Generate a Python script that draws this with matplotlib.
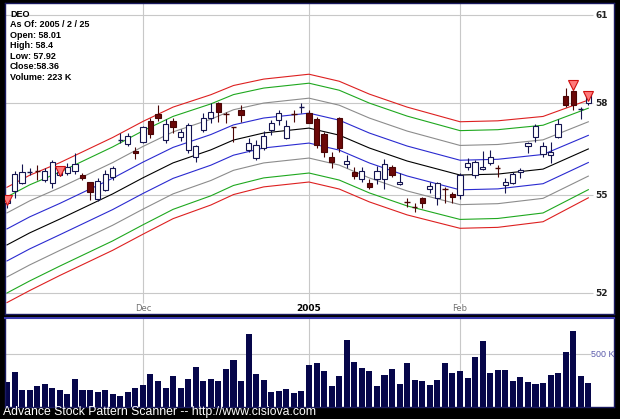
import numpy as np
import matplotlib
matplotlib.use("Agg")
import matplotlib.pyplot as plt
from matplotlib.patches import Rectangle
from matplotlib.ticker import NullLocator

# daily bars, 2004/11/2 .. 2005/2/25 (78 trading days)
opens = [54.77, 55.15, 55.40, 55.74, 55.78, 55.49, 55.40, 55.65, 55.72, 55.78,
         55.65, 55.43, 54.89, 55.18, 55.59, 56.78, 56.65, 56.43, 56.72, 57.40,
         57.63, 56.78, 57.40, 56.88, 56.46, 56.23, 57.11, 57.50, 58.00, 57.64,
         57.22, 57.77, 56.46, 56.20, 56.52, 57.11, 57.44, 56.85, 57.65, 57.87,
         57.67, 57.47, 56.98, 56.23, 57.50, 56.00, 55.75, 55.52, 55.40, 55.52,
         55.52, 55.90, 55.37, 54.80, 54.65, 54.92, 55.21, 54.92, 55.22, 55.06,
         55.03, 55.90, 55.65, 55.84, 56.03, 55.88, 55.34, 55.40, 55.75, 56.59,
         56.88, 56.33, 56.29, 56.88, 58.23, 58.40, 57.80, 58.01]
highs = [54.96, 55.78, 56.00, 55.87, 55.97, 55.87, 56.13, 55.87, 56.03, 56.36,
         55.71, 55.43, 55.55, 55.81, 55.94, 57.01, 57.01, 56.56, 57.24, 57.50,
         57.93, 57.47, 57.50, 57.14, 57.34, 56.62, 57.67, 58.00, 58.03, 57.70,
         57.22, 57.93, 56.85, 56.78, 57.08, 57.44, 57.77, 57.44, 57.77, 58.00,
         57.77, 57.54, 57.04, 56.39, 57.54, 56.29, 55.90, 55.90, 55.52, 55.94,
         56.16, 55.97, 55.71, 54.92, 54.77, 54.96, 55.43, 55.43, 55.27, 55.12,
         55.71, 56.20, 56.13, 56.43, 56.46, 55.97, 55.55, 55.75, 55.87, 56.72,
         57.31, 56.72, 56.72, 57.47, 58.50, 58.43, 57.87, 58.40]
lows = [54.61, 54.92, 55.37, 55.65, 55.49, 55.43, 55.24, 55.62, 55.65, 55.68,
        55.49, 54.86, 54.83, 55.15, 55.49, 56.68, 56.59, 56.16, 56.68, 56.85,
        57.40, 56.68, 57.01, 56.75, 56.36, 56.07, 57.04, 57.34, 57.37, 57.34,
        56.72, 57.37, 56.39, 56.13, 56.46, 56.94, 57.27, 56.81, 57.37, 57.67,
        57.34, 56.52, 56.23, 55.87, 56.39, 55.87, 55.52, 55.43, 55.21, 55.37,
        55.21, 55.59, 55.34, 54.64, 54.49, 54.61, 55.09, 54.70, 54.77, 54.77,
        54.89, 55.81, 55.55, 55.81, 55.97, 55.59, 55.09, 55.37, 55.55, 56.36,
        56.72, 56.23, 56.03, 56.85, 57.87, 57.77, 57.47, 57.92]
closes = [54.86, 55.68, 55.75, 55.76, 55.77, 55.78, 56.07, 55.75, 55.90, 56.00,
          55.56, 55.12, 55.46, 55.68, 55.87, 56.78, 56.91, 56.36, 57.21, 56.98,
          57.50, 57.31, 57.21, 57.04, 57.27, 56.59, 57.50, 57.70, 57.70, 57.63,
          57.20, 57.60, 56.68, 56.62, 56.91, 57.34, 57.67, 57.24, 57.62, 57.88,
          57.34, 56.62, 56.39, 56.07, 56.52, 56.10, 55.62, 55.78, 55.27, 55.78,
          56.00, 55.65, 55.43, 54.79, 54.64, 54.77, 55.30, 55.40, 55.20, 54.96,
          55.65, 56.03, 56.07, 55.90, 56.23, 55.86, 55.43, 55.68, 55.81, 56.68,
          57.24, 56.59, 56.39, 57.31, 57.93, 57.93, 57.80, 58.36]
# volume in thousands
volumes = [240, 327, 160, 163, 199, 221, 183, 160, 125, 260,
           163, 163, 138, 163, 119, 106, 138, 179, 212, 314,
           250, 179, 292, 183, 266, 375, 241, 268, 241, 357,
           443, 247, 686, 309, 251, 139, 155, 172, 133, 155,
           397, 416, 339, 194, 297, 629, 426, 368, 339, 200,
           303, 358, 216, 413, 255, 248, 210, 255, 419, 323,
           339, 271, 468, 623, 323, 345, 345, 248, 281, 235,
           216, 229, 300, 319, 523, 719, 290, 223]

# envelope: middle line read at some bars, and band step in %
band_bars = [0, 3, 7, 14, 18, 22, 27, 30, 34, 40, 44, 48, 53, 60, 65, 71, 77]
band_mid = [53.46, 53.83, 54.26, 55.05, 55.56, 56.04, 56.46, 56.78, 57.01,
            57.17, 56.94, 56.52, 56.10, 55.65, 55.68, 55.84, 56.49]
band_step = [0.92, 0.92, 0.90, 0.90, 0.90, 0.89, 0.88, 0.87, 0.86,
             0.86, 0.86, 0.86, 0.86, 0.85, 0.85, 0.84, 0.78]
band_k = [1, 2, 3, 3.6]
band_colors = ["#2a2ad0", "#8c8c8c", "#1fa81f", "#dd2020"]

# pattern signals (down triangles)
signal_bars = [0, 7, 75, 77]
signal_price = [54.86, 55.78, 58.62, 58.22]

month_bars = [18, 40, 60]
month_labels = ["Dec", "2005", "Feb"]
price_ticks = [52, 55, 58, 61]

info_lines = ["DEO", "As Of: 2005 / 2 / 25", "Open: 58.01", "High: 58.4",
              "Low: 57.92", "Close:58.36", "Volume: 223 K"]

W, H = 620, 419
fig = plt.figure(figsize=(6.2, 4.19), dpi=100, facecolor="black")
ax = fig.add_axes([5 / W, (H - 314) / H, 609 / W, 311 / H])
axv = fig.add_axes([5 / W, (H - 407) / H, 609 / W, 89 / H])

x0, x1 = -0.265, 80.4
xend = 77.3
ax.set_yscale("log")
ax.set_xlim(x0, x1)
ax.set_ylim(51.38, 61.43)
for a in (ax, axv):
    a.set_facecolor("white")
    a.set_xticks([])
    a.set_yticks([])
    a.yaxis.set_minor_locator(NullLocator())
    for s in a.spines.values():
        s.set_color("#1a1a60")
        s.set_linewidth(1)
axv.spines["top"].set_color("#3a3ab0")
axv.spines["top"].set_linewidth(1.5)

# grid
ax.hlines(price_ticks, x0, xend + 0.3, color="#c8c8c8", lw=0.8, zorder=0)
ax.vlines(month_bars, 51.71, 61.43, color="#c8c8c8", lw=0.8, zorder=0)
for v in price_ticks:
    ax.text(77.9, v, str(v), fontsize=6.5, fontweight="bold", color="#222222",
            va="center", ha="left")
for b, lab in zip(month_bars, month_labels):
    if lab == "2005":
        ax.text(b, 51.53, lab, fontsize=6.5, fontweight="bold", color="black",
                ha="center", va="center")
    else:
        ax.text(b, 51.53, lab, fontsize=6, color="#707070", ha="center", va="center")

# envelope bands
bb = np.array(band_bars)
mid = np.array(band_mid)
st = np.array(band_step) / 100
ax.plot(bb, mid, color="black", lw=0.8, zorder=1)
for k, c in zip(band_k, band_colors):
    ax.plot(bb, mid * np.exp(k * st), color=c, lw=0.8, zorder=1)
    ax.plot(bb, mid * np.exp(-k * st), color=c, lw=0.8, zorder=1)

# candles
w = 0.7
for i in range(len(opens)):
    o, h, l, c = opens[i], highs[i], lows[i], closes[i]
    up = c >= o
    edge = "#141450" if up else "#4a0505"
    ax.vlines(i, l, h, color=edge, lw=0.8, zorder=2)
    if abs(c - o) < 0.035:
        ax.hlines((o + c) / 2, i - w / 2, i + w / 2, color=edge, lw=1.0, zorder=3)
    else:
        ax.add_patch(Rectangle((i - w / 2, min(o, c)), w, abs(c - o),
                               facecolor="white" if up else "#6b0808",
                               edgecolor=edge, lw=0.8, zorder=3))

ax.plot(signal_bars, signal_price, "v", ms=6.5, mfc="#ff7a7a", mec="#d01010",
        mew=0.8, ls="none", zorder=4)

# info box
for n, t in enumerate(info_lines):
    fig.text(10 / W, 1 - (14.5 + 10.45 * n) / H, t, fontsize=6.5, fontweight="bold",
             family="Liberation Sans", color="black", va="center", ha="left")

# volume
axv.set_xlim(x0, x1)
axv.set_ylim(0, 840)
axv.hlines([500], x0, xend, color="#c8c8c8", lw=0.8, zorder=0)
axv.vlines(month_bars, 0, 840, color="#c8c8c8", lw=0.8, zorder=0)
axv.bar(range(len(volumes)), volumes, width=0.8, color="#06064a", zorder=2)
axv.text(78.9, 500, "500 K", fontsize=6.4, color="#5a5aaa", va="center", ha="center",
         family="Liberation Sans")

fig.text(3 / W, 1 - 412 / H, "Advance Stock Pattern Scanner -- http://www.cisiova.com",
         color="white", fontsize=8.8, family="Liberation Sans", va="center", ha="left")

fig.savefig("out.png", dpi=100, facecolor="black")
